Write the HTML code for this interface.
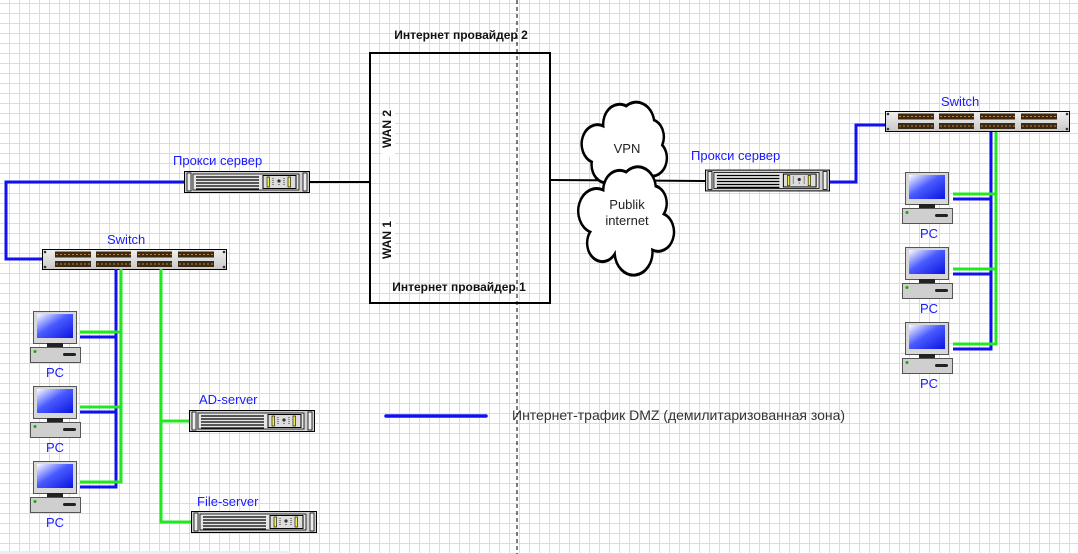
<!DOCTYPE html>
<html><head><meta charset="utf-8"><style>
html,body{margin:0;padding:0;background:#fff;}
body{width:1078px;height:554px;overflow:hidden;
background-image:linear-gradient(to right,#dcdcdc 1px,transparent 1px),linear-gradient(to bottom,#dcdcdc 1px,transparent 1px);
background-size:10px 10px;background-position:9px 3px;}
svg{display:block;}
.lbl{font-family:"Liberation Sans",Arial,sans-serif;font-size:13px;fill:#1a1aff;}
.bold{font-family:"Liberation Sans",Arial,sans-serif;font-size:12px;font-weight:bold;fill:#111;}
</style></head><body>
<svg width="1078" height="554" viewBox="0 0 1078 554" xmlns="http://www.w3.org/2000/svg">
<defs>
<linearGradient id="scr" x1="0" y1="0" x2="1" y2="1">
<stop offset="0" stop-color="#ffffff"/><stop offset="0.45" stop-color="#4a5cff"/><stop offset="1" stop-color="#0a14e0"/>
</linearGradient>
<linearGradient id="swg" x1="0" y1="0" x2="0" y2="1">
<stop offset="0" stop-color="#f0f0f0"/><stop offset="1" stop-color="#c8c8c8"/>
</linearGradient>
<symbol id="srv" viewBox="0 0 126 22" width="126" height="22">
<rect x="0.5" y="0.5" width="125" height="21" fill="#d0d0d0" stroke="#000"/>
<rect x="3" y="2" width="4" height="18" fill="#eee" stroke="#000" stroke-width="0.8"/>
<rect x="119" y="2" width="4" height="18" fill="#eee" stroke="#000" stroke-width="0.8"/>
<rect x="9" y="3" width="106" height="16" fill="#e6e6e6" stroke="#000" stroke-width="0.8"/>
<g stroke="#000" stroke-width="1.3"><path d="M12 6H75M12 9H75M12 12H75M12 15H75M12 18H75"/></g>
<rect x="79" y="4.5" width="33" height="13" fill="#ddd" stroke="#000"/>
<rect x="83" y="6" width="2.5" height="10" fill="#ee4" stroke="#000" stroke-width="0.6"/>
<rect x="104" y="6" width="2.5" height="10" fill="#ee4" stroke="#000" stroke-width="0.6"/>
<circle cx="95" cy="10" r="1.6" fill="#333"/>
<path d="M89 7v8M100 7v8M95 13v2" stroke="#333" stroke-width="1" stroke-dasharray="1 1"/>
</symbol>
<symbol id="swi" viewBox="0 0 185 21" width="185" height="21">
<rect x="0.5" y="0.5" width="184" height="20" fill="url(#swg)" stroke="#000"/>
<circle cx="3" cy="3" r="1.3" fill="#333"/><circle cx="3" cy="18" r="1.3" fill="#333"/>
<circle cx="182" cy="3" r="1.3" fill="#333"/><circle cx="182" cy="18" r="1.3" fill="#333"/>
<g fill="#3a2a14">
<rect x="13" y="2.5" width="36" height="6"/><rect x="13" y="12" width="36" height="6"/>
<rect x="54" y="2.5" width="35" height="6"/><rect x="54" y="12" width="35" height="6"/>
<rect x="95" y="2.5" width="35" height="6"/><rect x="95" y="12" width="35" height="6"/>
<rect x="136" y="2.5" width="36" height="6"/><rect x="136" y="12" width="36" height="6"/>
</g>
<g stroke="#c08040" stroke-width="1" stroke-dasharray="2 2">
<path d="M14 5.5H49M14 15H49M55 5.5H89M55 15H89M96 5.5H130M96 15H130M137 5.5H172M137 15H172"/>
</g>
</symbol>
<symbol id="pc" viewBox="0 0 52 52" width="52" height="52">
<rect x="3.5" y="0.5" width="43" height="32" fill="#d8d8d8" stroke="#555"/>
<rect x="7" y="3" width="36" height="24" fill="url(#scr)"/>
<rect x="17" y="32" width="16" height="4" fill="#222"/>
<rect x="0.5" y="36.5" width="50" height="15" fill="#cfcfcf" stroke="#555"/>
<circle cx="5" cy="40.5" r="1.5" fill="#1a1"/>
<rect x="33" y="42" width="13" height="3" rx="1.5" fill="#222"/>
</symbol>
</defs>

<line x1="517" y1="0" x2="517" y2="554" stroke="#000" stroke-width="1" stroke-dasharray="4 3"/>

<path d="M184 182H6V259H42" fill="none" stroke="#1010f0" stroke-width="3"/>
<line x1="310" y1="182" x2="371" y2="182" stroke="#000" stroke-width="2"/>
<line x1="550" y1="180" x2="705" y2="181" stroke="#000" stroke-width="2"/>

<rect x="370" y="53" width="180" height="250" fill="none" stroke="#000" stroke-width="2"/>
<rect x="382" y="109" width="13" height="48" fill="#fff"/>
<rect x="382" y="217" width="13" height="45" fill="#fff"/>
<text class="bold" x="461" y="39" text-anchor="middle">Интернет провайдер 2</text>
<text class="bold" x="459" y="291" text-anchor="middle">Интернет провайдер 1</text>
<text class="bold" transform="translate(391,129) rotate(-90)" text-anchor="middle">WAN 2</text>
<text class="bold" transform="translate(391,240) rotate(-90)" text-anchor="middle">WAN 1</text>

<text class="lbl" x="173" y="165">Прокси сервер</text>
<use href="#srv" x="184" y="171"/>
<text class="lbl" x="107" y="244">Switch</text>
<use href="#swi" x="42" y="249"/>

<g fill="none" stroke-width="3">
<path d="M116 269V487H80M116 337H80M116 412H80" stroke="#1010f0"/>
<path d="M121 269V482H80M121 332H80M121 407H80" stroke="#22e822"/>
<path d="M161 269V522H191M161 421H189" stroke="#22e822"/>
</g>
<use href="#pc" x="30" y="311"/><text class="lbl" x="55" y="377" text-anchor="middle">PC</text>
<use href="#pc" x="30" y="386"/><text class="lbl" x="55" y="452" text-anchor="middle">PC</text>
<use href="#pc" x="30" y="461"/><text class="lbl" x="55" y="527" text-anchor="middle">PC</text>
<text class="lbl" x="199" y="404">AD-server</text>
<use href="#srv" x="189" y="410"/>
<text class="lbl" x="197" y="506">File-server</text>
<use href="#srv" x="191" y="511"/>

<g transform="translate(627,0) scale(0.82,1) translate(-627,0)">
<path d="M598 126 A20 20 0 0 1 626 106 A22 22 0 0 1 660 120 A18 18 0 0 1 670 145 A18 18 0 0 1 656 176 A20 20 0 0 1 614 178 A18 18 0 0 1 584 162 A16 16 0 0 1 598 126 Z" fill="#fff" stroke="#000" stroke-width="3"/>
<path d="M598 190 A20 20 0 0 1 626 172 A22 22 0 0 1 662 186 A18 18 0 0 1 672 214 A18 18 0 0 1 658 250 A20 20 0 0 1 612 254 A18 18 0 0 1 582 232 A16 16 0 0 1 598 190 Z" fill="#fff" stroke="#000" stroke-width="3"/>
</g>
<text x="627" y="153" text-anchor="middle" font-family="Liberation Sans,Arial,sans-serif" font-size="13" fill="#222">VPN</text>
<text x="627" y="209" text-anchor="middle" font-family="Liberation Sans,Arial,sans-serif" font-size="13" fill="#222">Publik</text>
<text x="627" y="225" text-anchor="middle" font-family="Liberation Sans,Arial,sans-serif" font-size="13" fill="#222">internet</text>

<path d="M830 182H856V125H885" fill="none" stroke="#1010f0" stroke-width="3"/>
<text class="lbl" x="691" y="160">Прокси сервер</text>
<use href="#srv" x="705" y="169" width="125" height="23"/>
<text class="lbl" x="941" y="106">Switch</text>
<use href="#swi" x="885" y="111"/>
<g fill="none" stroke-width="3">
<path d="M991 132V349H953M991 199H953M991 274H953" stroke="#1010f0"/>
<path d="M996 132V344H953M996 194H953M996 269H953" stroke="#22e822"/>
</g>
<use href="#pc" x="902" y="172"/><text class="lbl" x="929" y="238" text-anchor="middle">PC</text>
<use href="#pc" x="902" y="247"/><text class="lbl" x="929" y="313" text-anchor="middle">PC</text>
<use href="#pc" x="902" y="322"/><text class="lbl" x="929" y="388" text-anchor="middle">PC</text>

<line x1="386" y1="416" x2="486" y2="416" stroke="#1010f0" stroke-width="3.5" stroke-linecap="round"/>
<text x="512" y="420" font-family="Liberation Sans,Arial,sans-serif" font-size="14" fill="#333">Интернет-трафик DMZ (демилитаризованная зона)</text>

<rect x="0" y="551" width="290" height="3" fill="#e8eef4"/>
</svg>
</body></html>
